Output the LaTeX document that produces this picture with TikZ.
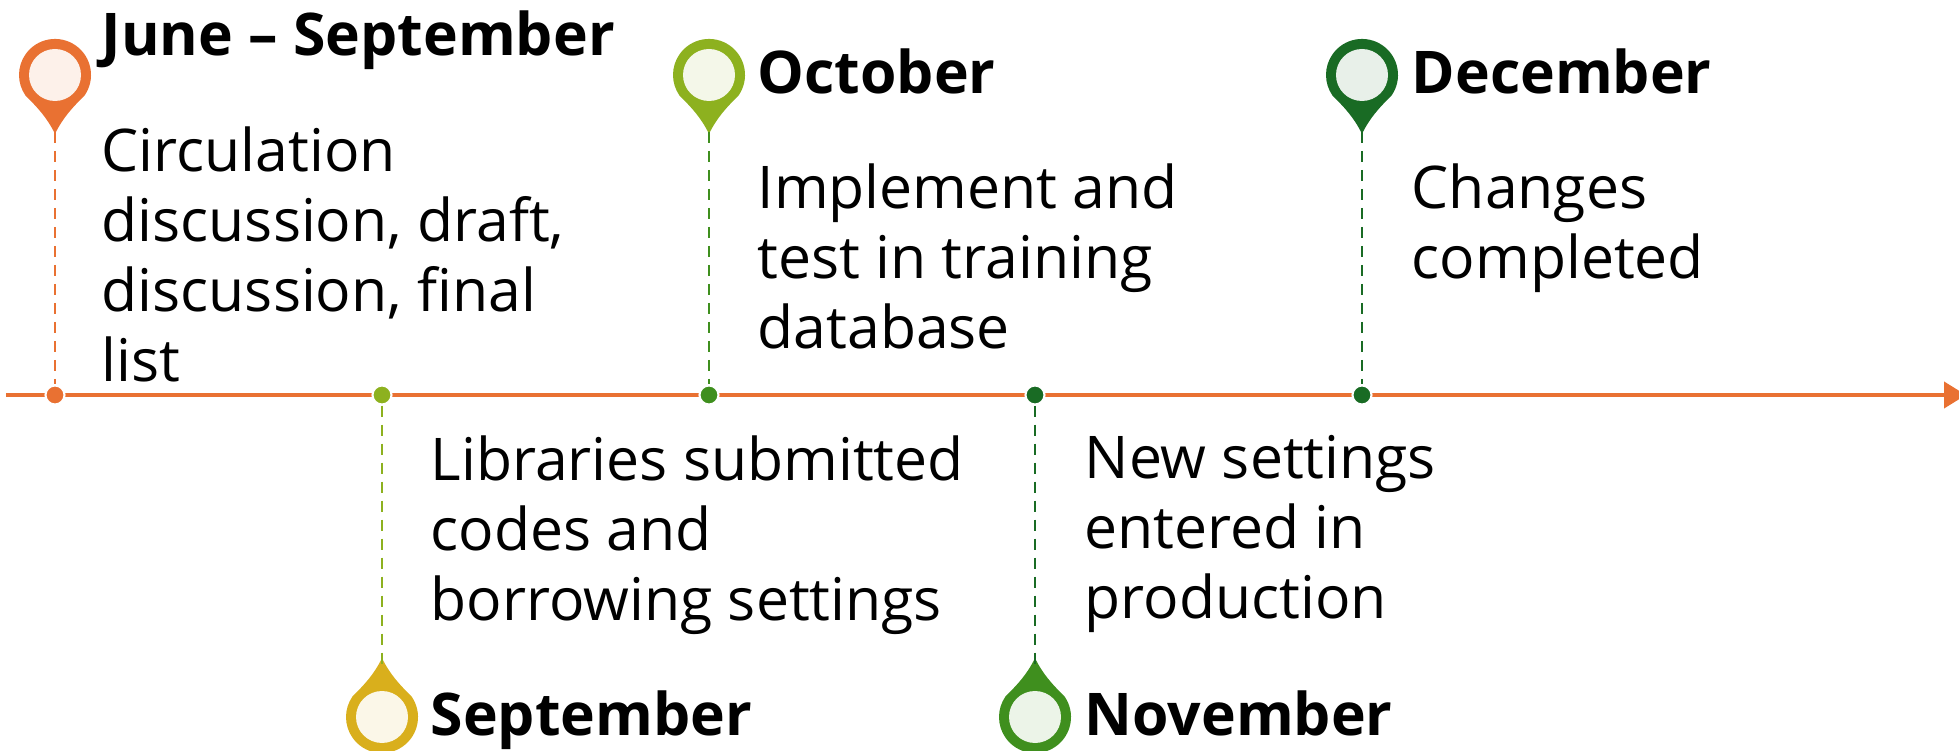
\documentclass[tikz,border=0pt]{standalone}
\usepackage{fontspec}
\setmainfont{Open Sans}
\usetikzlibrary{arrows.meta}
\definecolor{orangepin}{HTML}{E97132}
\definecolor{yellowpin}{HTML}{D9AF1C}
\definecolor{limepin}{HTML}{8DB11F}
\definecolor{midgreen}{HTML}{3F8F1E}
\definecolor{darkgreen}{HTML}{196B24}
% pin: name, x, y of centre, colour, direction of the tip (1 down, -1 up)
\newcommand{\mappin}[5]{
  \fill[#4,shift={(#2,#3)},yscale=#5] (-0.295,-0.206) .. controls (-0.2,-0.3) and (-0.08,-0.42) .. (0,-0.59)
    .. controls (0.08,-0.42) and (0.2,-0.3) .. (0.295,-0.206) arc (-35:215:0.36) -- cycle;
  \node[pinface,fill=#4!10] (#1) at (#2,#3) {};
  \coordinate (#1tip) at (#2,#3-0.53*#5-0.04);
}
\begin{document}
\begin{tikzpicture}
    \tikzstyle{pinface}=[circle,minimum size=0.52cm,inner sep=0pt]
    \tikzstyle{dot}=[circle,draw=white,line width=0.6pt,minimum size=0.19cm,inner sep=0pt]
    \tikzstyle{stem}=[dash pattern=on 0.11cm off 0.08cm,line width=0.8pt]
    \tikzstyle{month}=[anchor=base west,inner sep=0pt,font=\fontsize{16.75}{20}\selectfont\bfseries]
    \tikzstyle{body}=[anchor=north west,inner sep=0pt,align=left,font=\fontsize{16.75}{19.9}\selectfont]
    \useasboundingbox (0,0) rectangle (19.59,7.5);
    %axis
    \coordinate (start) at (0.06,3.55);
    \coordinate (end) at (19.66,3.55);
    \draw[orangepin,line width=1.15pt,-{Triangle[length=0.22cm,width=0.26cm]}] (start) -- (end);
    \node[dot,fill=orangepin] (d1) at (0.55,3.55) {};
    \node[dot,fill=limepin] (d2) at (3.82,3.55) {};
    \node[dot,fill=midgreen] (d3) at (7.09,3.55) {};
    \node[dot,fill=darkgreen] (d4) at (10.35,3.55) {};
    \node[dot,fill=darkgreen] (d5) at (13.62,3.55) {};
    %pins
    \mappin{p1}{0.55}{6.75}{orangepin}{1}
    \mappin{p2}{3.82}{0.33}{yellowpin}{-1}
    \mappin{p3}{7.09}{6.75}{limepin}{1}
    \mappin{p4}{10.35}{0.33}{midgreen}{-1}
    \mappin{p5}{13.62}{6.75}{darkgreen}{1}
    %stems
    \draw[stem,orangepin] (p1tip) -- (d1);
    \draw[stem,limepin] (d2) -- (p2tip);
    \draw[stem,midgreen] (p3tip) -- (d3);
    \draw[stem,darkgreen] (d4) -- (p4tip);
    \draw[stem,darkgreen] (p5tip) -- (d5);
    %text
    \node[month] (m1) at (1.01,6.94) {June -- September};
    \node[month] (m2) at (4.30,0.15) {September};
    \node[month] (m3) at (7.57,6.56) {October};
    \node[month] (m4) at (10.84,0.15) {November};
    \node[month] (m5) at (14.11,6.56) {December};
    \node[body] (t1) at (1.01,6.24) {Circulation\\discussion, draft,\\discussion, final\\list};
    \node[body] (t2) at (4.30,3.15) {Libraries submitted\\codes and\\borrowing settings};
    \node[body] (t3) at (7.57,5.87) {Implement and\\test in training\\database};
    \node[body] (t4) at (10.84,3.15) {New settings\\entered in\\production};
    \node[body] (t5) at (14.11,5.87) {Changes\\completed};
  \end{tikzpicture}
\end{document}
